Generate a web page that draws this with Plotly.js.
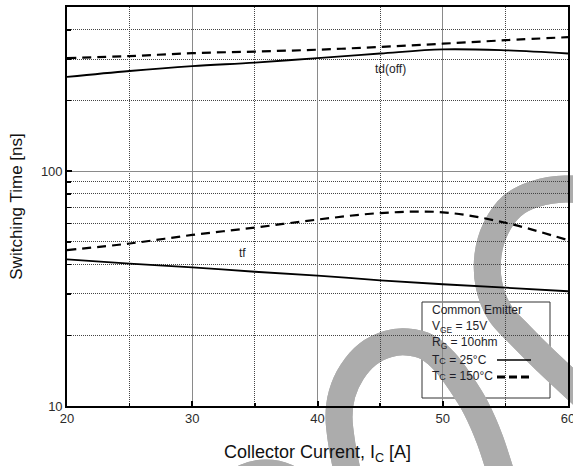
<!DOCTYPE html>
<html>
<head>
<meta charset="utf-8">
<script src="https://cdn.plot.ly/plotly-3.0.1.min.js"></script>
<style>
html,body{margin:0;padding:0;background:#fff;}
#chart{width:573px;height:466px;}
</style>
</head>
<body>
<div id="chart"></div>
<script>
// ---- data ----
const current = [20, 25, 30, 35, 40, 45, 50, 55, 60];
const tdoff_25C = [252, 267, 280, 290, 303, 317, 330, 327, 317];
const tdoff_150C = [303, 309, 318, 323, 329, 338, 349, 361, 372];
const tf_25C = [42.1, 40.4, 38.9, 37.3, 35.9, 34.3, 33.0, 31.9, 30.8];
const tf_150C = [46.1, 49.2, 53.5, 57.5, 62.2, 66.3, 66.8, 60.3, 50.8];

const xTickVals = [20, 30, 40, 50, 60];
const xMinorVals = [25, 35, 45, 55];
const yTickVals = [10, 100];
const yTickText = ['10', '100'];
const yMinorVals = [20, 30, 40, 50, 60, 70, 80, 90, 200, 300, 400];

const legendLines = ['Common Emitter', 'V<sub>GE</sub> = 15V', 'R<sub>G</sub> = 10ohm',
  'T<span style="font-size:9px">C</span> = 25°C', 'T<span style="font-size:9px">C</span> = 150°C'];

// ---- geometry helpers ----
const W = 573, H = 466, ML = 67, MR = 5, MT = 7, MB = 60;
const PW = W - ML - MR, PH = H - MT - MB;
const fx = x => (x - ML) / PW;
const fy = y => (H - MB - y) / PH;
const FONT = 'Liberation Sans, Arial, sans-serif';

function crPath(pts) {
  const p = pts.map(q => [fx(q[0]), fy(q[1])]);
  let d = 'M ' + p[0][0].toFixed(4) + ' ' + p[0][1].toFixed(4);
  for (let i = 0; i < p.length - 1; i++) {
    const p0 = p[i - 1] || p[i], p1 = p[i], p2 = p[i + 1], p3 = p[i + 2] || p[i + 1];
    const c1 = [p1[0] + (p2[0] - p0[0]) / 6, p1[1] + (p2[1] - p0[1]) / 6];
    const c2 = [p2[0] - (p3[0] - p1[0]) / 6, p2[1] - (p3[1] - p1[1]) / 6];
    d += ' C ' + c1[0].toFixed(4) + ' ' + c1[1].toFixed(4) + ' ' + c2[0].toFixed(4) + ' ' + c2[1].toFixed(4) + ' ' + p2[0].toFixed(4) + ' ' + p2[1].toFixed(4);
  }
  return d;
}

// watermark strokes (decoration, pixel space)
const wmA = [[615, 215], [590, 193], [565, 189], [535, 194], [512, 206], [496, 228], [488, 255], [489, 285], [500, 313], [520, 335], [545, 360], [590, 402]];
const wmB = [[349, 480], [342, 445], [339, 417], [342, 394], [352, 372], [368, 354], [388, 344], [407, 342], [427, 347], [445, 362], [460, 382], [476, 408], [490, 440], [503, 480]];
const wmC = [[228, 490], [246, 477], [266, 473], [286, 477], [304, 490]];

const wmColor = '#acacac', wmWidth = 27;
const wmShapes = [];
['between', 'below'].forEach(layer => {
  [wmA, wmB, wmC].forEach(pts => {
    wmShapes.push({type: 'path', xref: 'paper', yref: 'paper', layer: layer, path: crPath(pts),
      line: {color: wmColor, width: wmWidth}, fillcolor: 'rgba(0,0,0,0)'});
  });
});

const shapes = [
  {type: 'rect', xref: 'paper', yref: 'paper', layer: 'between', x0: fx(422), x1: fx(550), y0: fy(398), y1: fy(302),
    line: {color: '#333', width: 1}, fillcolor: '#fff'}
].concat(wmShapes).concat([
  {type: 'line', xref: 'paper', yref: 'paper', layer: 'above', x0: fx(497), x1: fx(531), y0: fy(360), y1: fy(360),
    line: {color: '#000', width: 1.6}},
  {type: 'line', xref: 'paper', yref: 'paper', layer: 'above', x0: fx(497), x1: fx(530), y0: fy(377), y1: fy(377),
    line: {color: '#000', width: 3.2, dash: '8px,4px'}}
]);

const legendY = [310, 327, 343, 360, 376];
const annotations = legendLines.map((t, i) => ({
  text: t, xref: 'paper', yref: 'paper', x: fx(430), y: fy(legendY[i]), xanchor: 'left', yanchor: 'middle',
  showarrow: false, font: {family: FONT, size: 12, color: '#1e1e28'}
}));
annotations.push({text: 'td(off)', x: 45.8, y: Math.log10(272), xref: 'x', yref: 'y', showarrow: false,
  font: {family: FONT, size: 12, color: '#1e1e28'}});
annotations.push({text: 'tf', x: 34.0, y: Math.log10(44.8), xref: 'x', yref: 'y', showarrow: false,
  font: {family: FONT, size: 12, color: '#1e1e28'}});

const solid = {color: '#000', width: 1.8, shape: 'spline'};
const dashed = {color: '#000', width: 2.2, shape: 'spline', dash: '9px,6px'};
const traces = [
  {x: current, y: tdoff_25C, mode: 'lines', line: solid, name: 'td(off) 25°C'},
  {x: current, y: tdoff_150C, mode: 'lines', line: dashed, name: 'td(off) 150°C'},
  {x: current, y: tf_25C, mode: 'lines', line: solid, name: 'tf 25°C'},
  {x: current, y: tf_150C, mode: 'lines', line: dashed, name: 'tf 150°C'}
];

const axisCommon = {
  showline: true, mirror: true, linecolor: '#000', linewidth: 1.8,
  ticks: 'inside', ticklen: 5, tickwidth: 2, tickcolor: '#000',
  showgrid: true, gridcolor: '#8a8a8a', gridwidth: 1, zeroline: false,
  ticklabeloverflow: 'allow',
  tickfont: {family: FONT, size: 13, color: '#2b2b2b'}
};

const layout = {
  width: W, height: H, margin: {l: ML, r: MR, t: MT, b: MB},
  paper_bgcolor: '#fff', plot_bgcolor: 'rgba(0,0,0,0)', showlegend: false,
  xaxis: Object.assign({}, axisCommon, {
    range: [20, 60.0001], tickmode: 'array', tickvals: xTickVals,
    minor: {tickmode: 'array', tickvals: xMinorVals, ticks: 'inside', ticklen: 3, tickwidth: 1.5, tickcolor: '#000',
      showgrid: true, gridcolor: '#444', gridwidth: 1, griddash: '1px,1px'},
    title: {text: 'Collector Current, I<sub>C</sub> [A]', standoff: 20, font: {family: FONT, size: 18, color: '#111'}}
  }),
  yaxis: Object.assign({}, axisCommon, {
    type: 'log', range: [1, Math.log10(500)], tickmode: 'array', tickvals: yTickVals, ticktext: yTickText,
    minor: {tickmode: 'array', tickvals: yMinorVals, ticks: 'inside', ticklen: 4, tickwidth: 1.5, tickcolor: '#000',
      showgrid: true, gridcolor: '#444', gridwidth: 1, griddash: '1px,1px'},
    title: {text: 'Switching Time [ns]', standoff: 14, font: {family: FONT, size: 17, color: '#111'}}
  }),
  shapes: shapes,
  annotations: annotations
};

Plotly.newPlot('chart', traces, layout, {staticPlot: true, displayModeBar: false});
</script>
</body>
</html>
